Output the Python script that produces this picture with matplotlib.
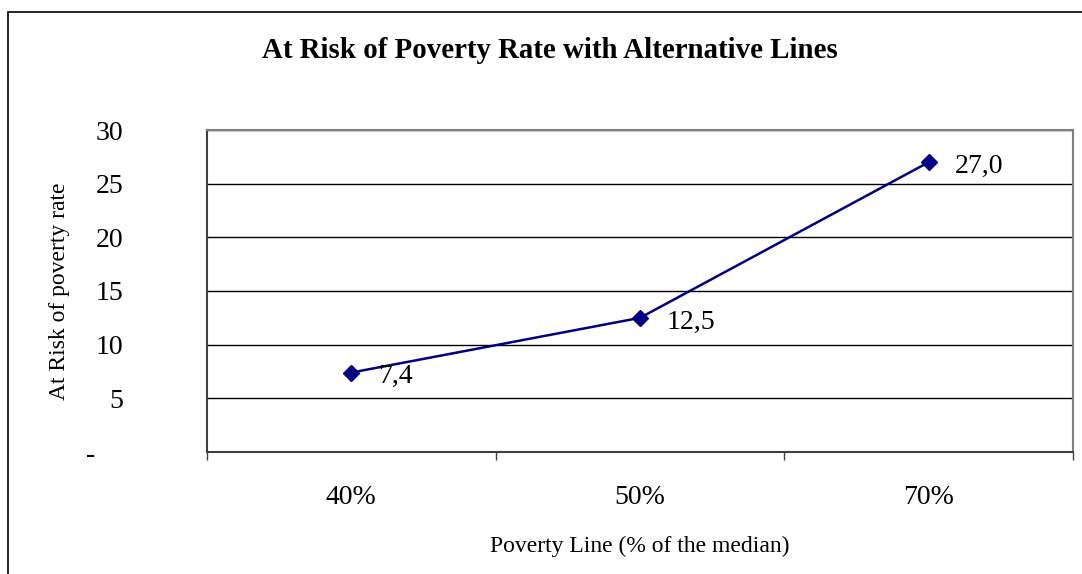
import matplotlib.pyplot as plt
import matplotlib.patches as patches

# values
lines = ["40%", "50%", "70%"]
rates = [7.4, 12.5, 27.0]
rate_labels = ["7,4", "12,5", "27,0"]
yticks = [0, 5, 10, 15, 20, 25, 30]
ytick_labels = ["-    ", "5", "10", "15", "20", "25", "30"]

plt.rcParams['font.family'] = ['Liberation Serif', 'DejaVu Serif']

W, H = 1082, 574
fig = plt.figure(figsize=(W / 100, H / 100), dpi=100)

# outer chart border (runs off the right and bottom edge)
fig.patches.append(patches.Rectangle((8 / W, -0.05), 1.1, 1 - 12 / H + 0.05,
                                     transform=fig.transFigure, fill=False,
                                     edgecolor='black', linewidth=1.2))

ax = fig.add_axes([207 / W, 1 - 452 / H, 866 / W, 322 / H])
x = list(range(len(lines)))
ax.plot(x, rates, color='#000080', linewidth=1.8, marker='D', markersize=8,
        markerfacecolor='#000080', markeredgecolor='#000080', zorder=3)
for xi, yi, lab in zip(x, rates, rate_labels):
    ax.annotate(lab, (xi, yi), xytext=(19, -3), textcoords='offset points',
                ha='left', va='center', fontsize=20)

ax.set_xlim(-0.5, len(lines) - 0.5)
ax.set_ylim(0, 30)
ax.set_yticks(yticks)
ax.set_yticklabels(ytick_labels, fontsize=20)
ax.set_xticks(x)
ax.set_xticklabels(lines, fontsize=20)
ax.set_xticks([i - 0.5 for i in range(len(lines) + 1)], minor=True)
ax.tick_params(axis='x', which='major', length=0, pad=24)
ax.tick_params(axis='x', which='minor', length=6, width=1, color='#404040')
ax.tick_params(axis='y', length=0, pad=60)

ax.grid(axis='y', color='black', linewidth=1)
ax.set_axisbelow(True)
for s in ['top', 'right']:
    ax.spines[s].set_color('#808080')
    ax.spines[s].set_linewidth(1.5)
for s in ['left', 'bottom']:
    ax.spines[s].set_color('#404040')
    ax.spines[s].set_linewidth(1.5)

ax.set_xlabel("Poverty Line (% of the median)", fontsize=17, labelpad=18)
ax.set_ylabel("At Risk of poverty rate", fontsize=17, labelpad=12)
fig.text(550 / W, 1 - 51 / H, "At Risk of Poverty Rate with Alternative Lines",
         ha='center', va='center', fontsize=20.8, fontweight='bold')

fig.savefig("out.png", dpi=100)
